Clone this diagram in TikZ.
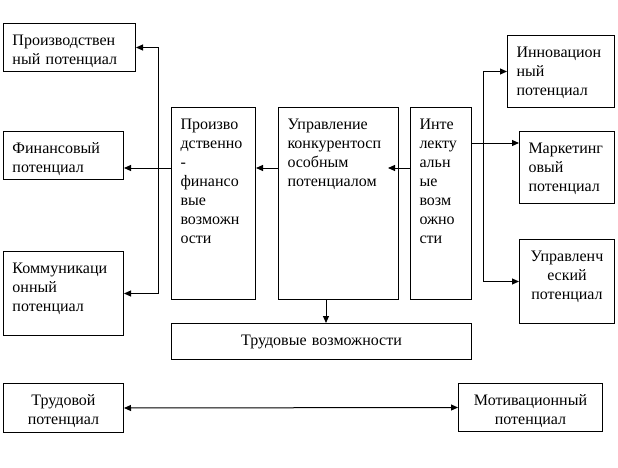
\documentclass[tikz,border=0pt]{standalone}
\usepackage{fontspec}
\setmainfont{Liberation Serif}
\newfontfamily\boxfont{Liberation Serif}
\usetikzlibrary{arrows.meta}
\begin{document}
\begin{tikzpicture}[x=1pt,y=-1pt,line width=1pt,>={Triangle[length=7pt,width=6pt]},
    font=\boxfont\fontsize{16}{19}\selectfont,
    box/.style={draw,anchor=north west,align=left,inner xsep=9pt,inner ysep=0pt,text height=22pt},
    cbox/.style={box,align=center}]
    \useasboundingbox (0,0) rectangle (618,468);

    \node [box,text width=114pt,text depth=26pt] (prod) at (3,23) {Производствен\\ный потенциал};
    \node [box,text width=102pt,text depth=26pt] (fin) at (3,131) {Финансовый\\потенциал};
    \node [box,text width=102pt,text depth=62pt] (comm) at (3,251) {Коммуникаци\\онный\\потенциал};

    \node [box,text width=66pt,text depth=170pt] (pf) at (171,107) {Произво\\дственно\\-\\финансо\\вые\\возможн\\ости};
    \node [box,text width=102pt,text depth=170pt] (upr) at (278,107) {Управление\\конкурентосп\\особным\\потенциалом};
    \node [box,text width=43pt,text depth=170pt] (intel) at (410,107) {Инте\\лекту\\альн\\ые\\возм\\ожно\\сти};

    \node [box,text width=89pt,text depth=50pt] (innov) at (507,35) {Инновацион\\ный\\потенциал};
    \node [box,text width=77pt,text depth=50pt] (mark) at (519,131) {Маркетинг\\овый\\потенциал};
    \node [cbox,text width=77pt,text depth=62pt] (manag) at (519,239) {Управленч\\еский\\потенциал};

    \node [cbox,text width=282pt,text depth=14pt] (labpos) at (171,323) {Трудовые возможности};
    \node [cbox,text width=102pt,text depth=27pt] (labpot) at (3,383) {Трудовой\\потенциал};
    \node [cbox,text width=126pt,text depth=26pt] (motiv) at (458,383) {Мотивационный\\потенциал};

    \coordinate (lbus) at (158,0);
    \coordinate (rbus) at (483,0);
    \coordinate (m1) at (0,168);
    \coordinate (m2) at (0,143);
    \coordinate (tip) at (388,168);
    \coordinate (dn) at (326,0);

    \draw[<->] (prod.east) -- (prod.east -| lbus) -- (comm.east -| lbus) -- (comm.east);
    \draw[->] (pf.west |- m1) -- (fin.east |- m1);
    \draw[->] (upr.west |- m1) -- (pf.east |- m1);
    \draw[->] (intel.west |- tip) -- (tip);
    \draw[<->] (innov.west) -- (innov.west -| rbus) -- (manag.west -| rbus) -- (manag.west);
    \draw[->] (intel.east |- m2) -- (mark.west |- m2);
    \draw[->] (upr.south -| dn) -- (labpos.north -| dn);
    \draw[<->] (labpot.east) -- (motiv.west);

\end{tikzpicture}
\end{document}
